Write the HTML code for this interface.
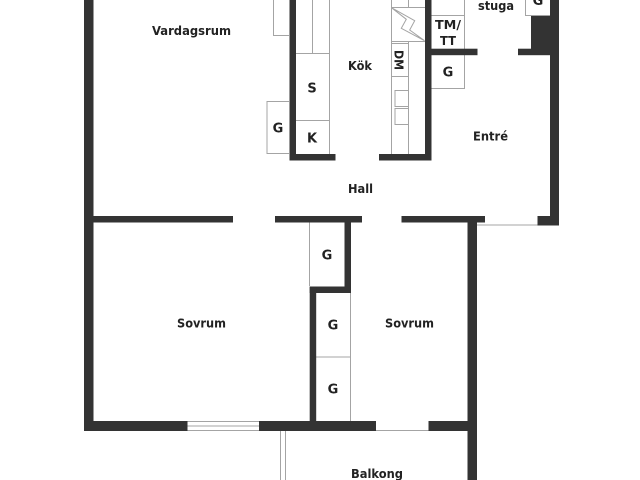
<!DOCTYPE html>
<html><head><meta charset="utf-8"><style>
html,body{margin:0;padding:0;background:#fff;width:640px;height:480px;overflow:hidden}
svg{display:block}
text{font-family:"DejaVu Sans",sans-serif;font-size:12.5px;font-weight:bold;fill:#222}
text.b{font-size:13px}
</style></head><body>
<svg width="640" height="480" viewBox="0 0 640 480" xmlns="http://www.w3.org/2000/svg">
<g fill="none" stroke="#a4a4a4" stroke-width="1">
<path d="M329.5 0V154M312.5 0V53.5M296 53.5H329.5M296 120.5H329.5"/>
<path d="M289 101.5H267V153.5H289M273.5 0V35.5H289"/>
<path d="M391.5 0V154M408.5 0V7.5M408.5 42V154M391.5 7.5H425M391.5 41.5H425M391.5 43.5H408.5M391.5 76.5H408.5"/>
<path d="M408.5 90.5H395V106.5H408.5M408.5 108.5H395V124.5H408.5"/>
<path d="M391.5 7.7L414.7 20.7L409.7 30L424.5 40.7L401.3 28.3L406.3 19.3Z"/>
<path d="M431 15.5H464.5M464.5 0V49M431 88.5H464.5V55"/>
<path d="M525.5 0V15.5H550"/>
<path d="M477 225H537.5"/>
<path d="M309.5 222V286M350.5 293V421M316 357H350.5"/>
<path d="M187.5 421.5H259M187.5 426H259M187.5 430.5H259"/>
<path d="M376 430.5H429"/>
<path d="M280.5 431V480M285.5 431V480"/>
</g>
<g fill="#333">
<rect x="84" y="0" width="9.5" height="431"/>
<rect x="93" y="216" width="140" height="6.5"/>
<rect x="84" y="421" width="103.5" height="10"/>
<rect x="259" y="421" width="117" height="10"/>
<rect x="428.5" y="421" width="39" height="10"/>
<rect x="289.5" y="0" width="6.5" height="160.5"/>
<rect x="289.5" y="154" width="46" height="6.5"/>
<rect x="379" y="154" width="52.5" height="6.5"/>
<rect x="425" y="0" width="6.5" height="160.5"/>
<rect x="431" y="48.7" width="46.5" height="6.5"/>
<rect x="518" y="48.7" width="32" height="6.5"/>
<rect x="531" y="16" width="19" height="39"/>
<rect x="550" y="0" width="9" height="225.5"/>
<rect x="537.5" y="216" width="21.5" height="9.5"/>
<rect x="275" y="216" width="87" height="6.5"/>
<rect x="401.5" y="216" width="83.5" height="6.5"/>
<rect x="467.5" y="216" width="9.5" height="264"/>
<rect x="344.5" y="222" width="6.5" height="71"/>
<rect x="309.7" y="286.5" width="41" height="6.5"/>
<rect x="309.7" y="286.5" width="6.5" height="135"/>
</g>
<text x="152" y="35" textLength="79" lengthAdjust="spacingAndGlyphs">Vardagsrum</text>
<text x="348" y="70" textLength="24" lengthAdjust="spacingAndGlyphs">Kök</text>
<text x="478" y="10" textLength="36" lengthAdjust="spacingAndGlyphs">stuga</text>
<text x="348" y="193" textLength="25" lengthAdjust="spacingAndGlyphs">Hall</text>
<text x="473" y="140.5" textLength="35" lengthAdjust="spacingAndGlyphs">Entré</text>
<text x="177" y="327.5" textLength="49" lengthAdjust="spacingAndGlyphs">Sovrum</text>
<text x="385" y="327.5" textLength="49" lengthAdjust="spacingAndGlyphs">Sovrum</text>
<text x="351" y="478" textLength="52" lengthAdjust="spacingAndGlyphs">Balkong</text>
<text class="b" x="312" y="92.5" text-anchor="middle">S</text>
<text class="b" x="312" y="142.5" text-anchor="middle">K</text>
<text class="b" x="278" y="132.5" text-anchor="middle">G</text>
<text class="b" x="448" y="76.5" text-anchor="middle">G</text>
<text class="b" x="538" y="5" text-anchor="middle">G</text>
<text class="b" x="327" y="259.5" text-anchor="middle">G</text>
<text class="b" x="333" y="329.5" text-anchor="middle">G</text>
<text class="b" x="333" y="393.5" text-anchor="middle">G</text>
<text x="435" y="29" textLength="26" lengthAdjust="spacingAndGlyphs">TM/</text>
<text x="440" y="45" textLength="16" lengthAdjust="spacingAndGlyphs">TT</text>
<text transform="translate(394.5 50) rotate(90)" x="0" y="0" textLength="20" lengthAdjust="spacingAndGlyphs">DM</text>
</svg>
</body></html>
